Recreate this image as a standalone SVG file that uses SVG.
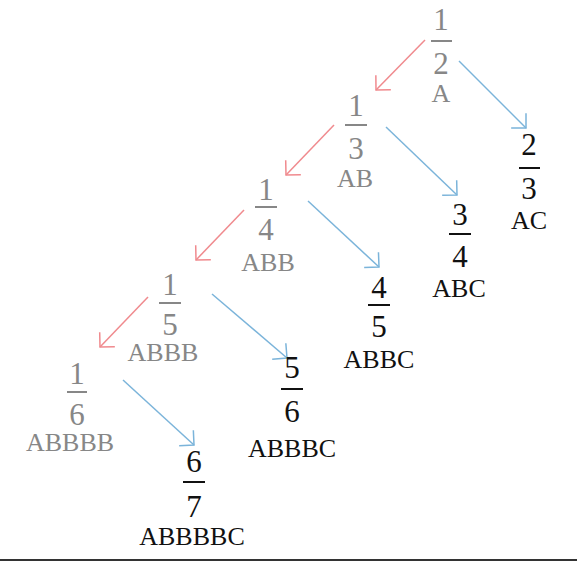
<svg xmlns="http://www.w3.org/2000/svg" width="577" height="561" viewBox="0 0 577 561">
<style>
text{font-family:"Liberation Serif","Times New Roman",serif;text-anchor:middle}
.d{font-size:31px}
.l{font-size:26px}
.g text{fill:#878787}
.g .bar{fill:#878787}
.k text{fill:#111}
.k .bar{fill:#111}
.red{stroke:#f08a8e;stroke-width:1.5;fill:none}
.blue{stroke:#7bb4da;stroke-width:1.5;fill:none}
</style>
<defs>
<marker id="ar" markerUnits="userSpaceOnUse" markerWidth="20" markerHeight="30" orient="auto" overflow="visible" refX="0" refY="0">
<path d="M-10.5,-10.5 L0,0 L-10.5,10.5" fill="none" stroke="#f08a8e" stroke-width="1.5"/>
</marker>
<marker id="ab" markerUnits="userSpaceOnUse" markerWidth="20" markerHeight="30" orient="auto" overflow="visible" refX="0" refY="0">
<path d="M-10.5,-10.5 L0,0 L-10.5,10.5" fill="none" stroke="#7bb4da" stroke-width="1.5"/>
</marker>
</defs>
<g id="connectors">
<line class="red" x1="425" y1="40" x2="376" y2="90" marker-end="url(#ar)"/>
<line class="red" x1="334" y1="125" x2="286" y2="175" marker-end="url(#ar)"/>
<line class="red" x1="244" y1="210" x2="196" y2="260" marker-end="url(#ar)"/>
<line class="red" x1="148" y1="297" x2="100" y2="347" marker-end="url(#ar)"/>
<line class="blue" x1="459" y1="61" x2="526" y2="128" marker-end="url(#ab)"/>
<line class="blue" x1="386" y1="127" x2="457" y2="195" marker-end="url(#ab)"/>
<line class="blue" x1="308" y1="201" x2="379" y2="267" marker-end="url(#ab)"/>
<line class="blue" x1="212" y1="294" x2="287" y2="358" marker-end="url(#ab)"/>
<line class="blue" x1="123" y1="380" x2="194" y2="445" marker-end="url(#ab)"/>
</g>
<g id="n12" class="g">
<text class="d" x="441" y="30">1</text><rect class="bar" x="431" y="40" width="21" height="2"/><text class="d" x="441" y="74">2</text><text class="l" x="441" y="102">A</text>
</g>
<g id="n13" class="g">
<text class="d" x="356" y="116">1</text><rect class="bar" x="345" y="124" width="22" height="2"/><text class="d" x="356" y="159">3</text><text class="l" x="355" y="187">AB</text>
</g>
<g id="n14" class="g">
<text class="d" x="266" y="200">1</text><rect class="bar" x="255" y="206" width="22" height="2"/><text class="d" x="266" y="240">4</text><text class="l" x="268" y="271">ABB</text>
</g>
<g id="n15" class="g">
<text class="d" x="170" y="295">1</text><rect class="bar" x="159" y="302" width="22" height="2"/><text class="d" x="170" y="335">5</text><text class="l" x="163" y="361">ABBB</text>
</g>
<g id="n16" class="g">
<text class="d" x="77" y="384">1</text><rect class="bar" x="67" y="391" width="20" height="2"/><text class="d" x="77" y="425">6</text><text class="l" x="70" y="451">ABBBB</text>
</g>
<g id="n23" class="k">
<text class="d" x="529" y="155">2</text><rect class="bar" x="519" y="167" width="21" height="2"/><text class="d" x="529" y="199">3</text><text class="l" x="529" y="229">AC</text>
</g>
<g id="n34" class="k">
<text class="d" x="460" y="225">3</text><rect class="bar" x="449" y="233" width="22" height="2"/><text class="d" x="460" y="267">4</text><text class="l" x="459" y="297">ABC</text>
</g>
<g id="n45" class="k">
<text class="d" x="379" y="298">4</text><rect class="bar" x="368" y="304" width="22" height="2"/><text class="d" x="379" y="337">5</text><text class="l" x="379" y="368">ABBC</text>
</g>
<g id="n56" class="k">
<text class="d" x="292" y="378">5</text><rect class="bar" x="281" y="388" width="22" height="2"/><text class="d" x="292" y="422">6</text><text class="l" x="292" y="457">ABBBC</text>
</g>
<g id="n67" class="k">
<text class="d" x="194" y="472">6</text><rect class="bar" x="183" y="481" width="22" height="2"/><text class="d" x="194" y="517">7</text><text class="l" x="192" y="545">ABBBBC</text>
</g>
<rect x="0" y="559" width="577" height="2" fill="#333"/>
</svg>
